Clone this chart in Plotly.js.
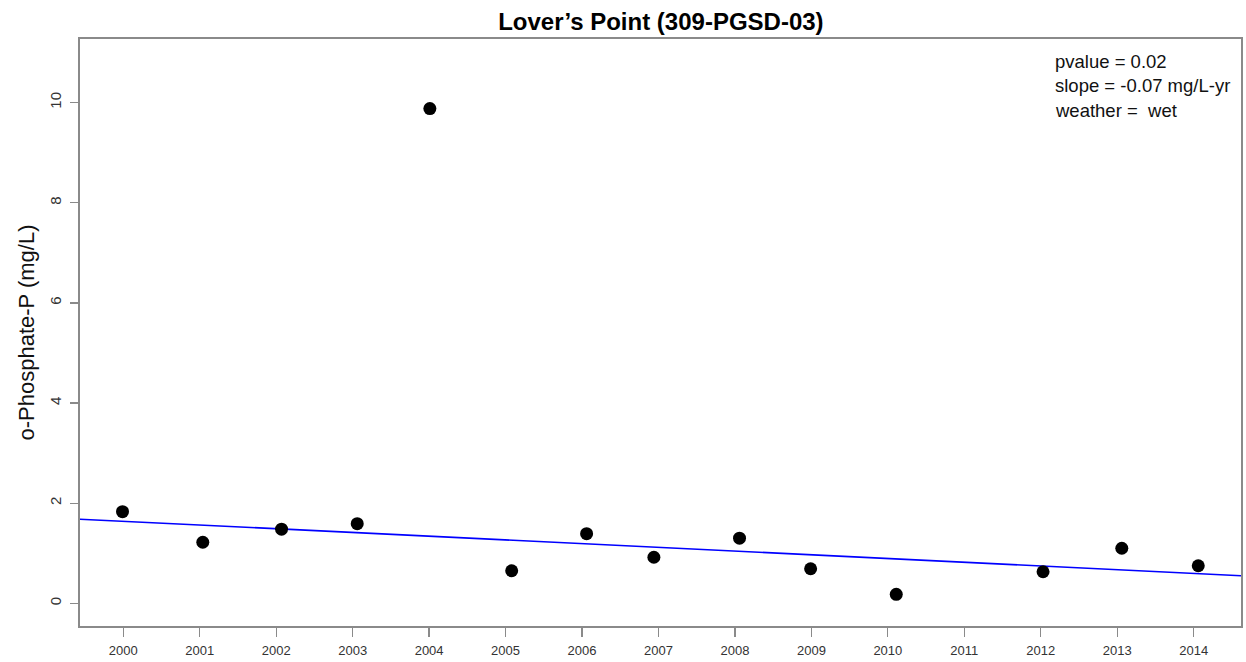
<!DOCTYPE html>
<html>
<head>
<meta charset="utf-8">
<script src="https://cdn.plot.ly/plotly-3.0.1.min.js"></script>
<style>html,body{margin:0;padding:0;background:#fff;}#chart{width:1246px;height:662px;}</style>
</head>
<body>
<div id="chart"></div>
<script>
// Sample dates (decimal years) and o-Phosphate-P values (mg/L)
var sampleYears = [1999.99, 2001.04, 2002.07, 2003.06, 2004.01, 2005.08, 2006.06, 2006.94, 2008.06, 2008.99, 2010.11, 2012.03, 2013.06, 2014.06];
var phosphate   = [1.83, 1.22, 1.48, 1.59, 9.88, 0.65, 1.39, 0.92, 1.30, 0.69, 0.18, 0.63, 1.10, 0.75];

// Trend line (slope in mg/L per year, value at year 2000)
var trendSlope = -0.0744;
var trendAt2000 = 1.638;
var trendYears = [1999.43, 2014.62];
var trendValues = trendYears.map(function (t) { return trendAt2000 + trendSlope * (t - 2000); });

var tickYears = [2000, 2001, 2002, 2003, 2004, 2005, 2006, 2007, 2008, 2009, 2010, 2011, 2012, 2013, 2014];
var tickLabels = tickYears.map(String);
var yTicks = [0, 2, 4, 6, 8, 10];

var statLines = ["pvalue = 0.02", "slope = -0.07 mg/L-yr", "weather =  wet"];
var yTitle = 'o-Phosphate-P (mg/L)';

var traces = [
  {
    x: trendYears, y: trendValues, type: 'scatter', mode: 'lines',
    line: {color: '#0000ff', width: 1.6}, hoverinfo: 'skip', showlegend: false
  },
  {
    x: sampleYears, y: phosphate, type: 'scatter', mode: 'markers',
    marker: {color: '#000000', size: 13}, showlegend: false
  }
];

var font = 'Liberation Sans, Arial, sans-serif';
var annotations = statLines.map(function (s, i) {
  return {
    text: s, xref: 'paper', yref: 'paper', x: 0.838, y: [0.962, 0.920, 0.878][i],
    xanchor: 'left', yanchor: 'middle', showarrow: false,
    font: {family: font, size: 18.5, color: '#111'}
  };
});
annotations.push({
  text: yTitle, xref: 'paper', yref: 'paper', x: -0.0465, y: 0.5,
  xanchor: 'center', yanchor: 'middle', textangle: -90, showarrow: false,
  font: {family: font, size: 22, color: '#111'}
});

var layout = {
  width: 1246, height: 662,
  margin: {l: 80, r: 5, t: 39, b: 36},
  paper_bgcolor: '#fff', plot_bgcolor: '#fff',
  title: {text: "<b>Lover’s Point (309-PGSD-03)</b>", x: 0.5304, xanchor: 'center', y: 0.967, yanchor: 'middle',
          font: {family: font, size: 24, color: '#000'}},
  xaxis: {
    range: [1999.434, 2014.619], tickvals: tickYears, ticktext: tickLabels,
    showgrid: false, zeroline: false, showline: true, mirror: true,
    linecolor: '#8a8a8a', linewidth: 1.6,
    ticks: 'outside', ticklen: 9, tickwidth: 1.3, tickcolor: '#8a8a8a', ticklabelstandoff: 3,
    tickfont: {family: font, size: 13, color: '#333'}
  },
  yaxis: {
    range: [-0.453, 11.27], tickvals: yTicks, ticktext: yTicks.map(String), tickangle: -90,
    showgrid: false, zeroline: false, showline: true, mirror: true,
    linecolor: '#8a8a8a', linewidth: 1.6,
    ticks: 'outside', ticklen: 8, tickwidth: 1.3, tickcolor: '#8a8a8a', ticklabelstandoff: 3,
    tickfont: {family: font, size: 15, color: '#333'}
  },
  annotations: annotations,
  hovermode: false
};

Plotly.newPlot('chart', traces, layout, {displayModeBar: false, staticPlot: true});
</script>
</body>
</html>
